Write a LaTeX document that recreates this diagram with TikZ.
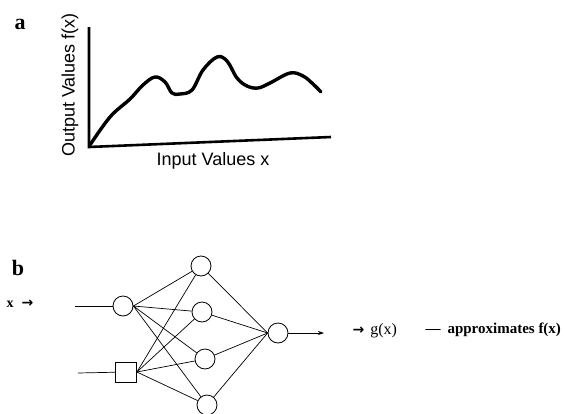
\documentclass[tikz,border=0pt]{standalone}
\usepackage{fontspec}
\setmainfont{Liberation Serif}
\newfontfamily\axfont{Liberation Sans}
\newfontfamily\arrfont{DejaVu Sans}
\usetikzlibrary{arrows.meta}
\begin{document}
\begin{tikzpicture}[x=1pt,y=-1pt,
  neuron/.style={draw,circle,minimum size=20pt,inner sep=0pt,line width=0.8pt},
  sqnode/.style={draw,rectangle,minimum width=21pt,minimum height=20pt,inner sep=0pt,line width=0.8pt},
  wire/.style={line width=0.7pt},
  axis/.style={line width=2.6pt},
  panel/.style={font=\fontsize{22}{24}\selectfont\bfseries},
  axlabel/.style={font=\axfont\fontsize{18}{20}\selectfont},
  serlabel/.style={font=\fontsize{16}{18}\selectfont}]
\useasboundingbox (0,0) rectangle (565,413);
% ---- panel a ----
\node[panel] (la) at (20,24) {a};
\coordinate (o) at (89,147);
\coordinate (ytop) at (89,27);
\coordinate (xend) at (331,137);
\draw[axis] (ytop) -- (o) -- (xend);
\draw[line width=3.4pt,line cap=round,line join=round] plot[smooth,tension=0.6] coordinates {
 (90,145) (110,117) (130,99) (143,85) (155,77) (165,82) (172,93) (180,94) (192,90) (203,70) (217,57) (227,61) (237,78) (247,86) (258,88) (270,83) (290,73) (303,76) (313,84) (321,92)};
\node[axlabel,rotate=90] (ylab) at (70,85) {Output Values f(x)};
\node[axlabel] (xlab) at (213,161) {Input Values x};
% ---- panel b ----
\node[panel] (lb) at (18,268) {b};
\node[font=\fontsize{14}{16}\selectfont\bfseries,anchor=west] (xin) at (3,304) {x\hspace{8pt}{\arrfont\bfseries →}};
\node[neuron] (i1) at (123,306) {};
\node[sqnode] (i2) at (126,372) {};
\node[neuron] (h1) at (201,266) {};
\node[neuron] (h2) at (202,312) {};
\node[neuron] (h3) at (205,359) {};
\node[neuron] (h4) at (207,405) {};
\node[neuron] (out) at (278,333) {};
\coordinate (in1) at (75,306);
\coordinate (in2) at (78,373);
\coordinate (oend) at (324,333);
\draw[wire] (in1) -- (i1);
\draw[wire] (in2) -- (i2);
\foreach \h in {h1,h2,h3,h4} {
  \draw[wire] (i1.east) -- (\h);
  \draw[wire] (i2.east) -- (\h);
  \draw[wire] (\h) -- (out.west);
}
\draw[wire,-{Stealth[length=6pt,width=4pt]}] (out) -- (oend);
\node[serlabel,anchor=west] (gx) at (349,331) {{\arrfont\bfseries\fontsize{14}{16}\selectfont →}\hspace{6pt}g(x)};
\node[font=\fontsize{15}{17}\selectfont\bfseries,anchor=west] (appr) at (422,330) {—\hspace{7pt}approximates f(x)};
\end{tikzpicture}
\end{document}
